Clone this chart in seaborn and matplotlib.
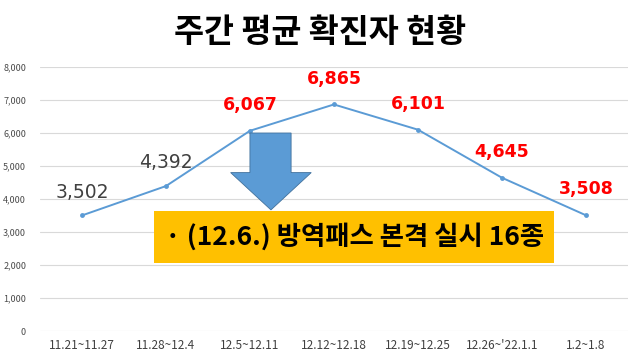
import matplotlib
matplotlib.use("Agg")
import matplotlib.pyplot as plt
import seaborn as sns
import pandas as pd
from matplotlib.patches import Polygon, Rectangle

weeks = ["11.21~11.27", "11.28~12.4", "12.5~12.11", "12.12~12.18",
         "12.19~12.25", "12.26~'22.1.1", "1.2~1.8"]
cases = [3502, 4392, 6067, 6865, 6101, 4645, 3508]
label_colors = ["#404040", "#404040", "#FF0000", "#FF0000", "#FF0000", "#FF0000", "#FF0000"]
yticks = [0, 1000, 2000, 3000, 4000, 5000, 6000, 7000, 8000]
title = "주간 평균 확진자 현황"
note = "· (12.6.) 방역패스 본격 실시 16종"

sns.set_theme(style="white")
plt.rcParams['font.family'] = ['Noto Sans CJK KR', 'DejaVu Sans']

df = pd.DataFrame({"week": weeks, "cases": cases})

fig = plt.figure(figsize=(6.4, 3.61), dpi=100)
ax = fig.add_axes([0.0625, 0.0831, 0.9185, 0.7313])

sns.lineplot(data=df, x="week", y="cases", ax=ax, color="#5B9BD5",
             linewidth=1.4, marker="o", markersize=3.5, markeredgewidth=0,
             sort=False)

ax.set_xlim(-0.5, len(weeks) - 0.5)
ax.set_ylim(0, 8000)
ax.set_yticks(yticks)
ax.set_yticklabels([f"{v:,}" for v in yticks], fontsize=6.5, color="#4A4A4A",
                   fontweight="medium")
ax.set_xticks(range(len(weeks)))
ax.set_xticklabels(weeks, fontsize=8.5, color="#404040")
ax.tick_params(axis="both", length=0)
ax.tick_params(axis="y", pad=10)
ax.tick_params(axis="x", pad=6)
ax.set_xlabel("")
ax.set_ylabel("")
ax.grid(axis="y", color="#D9D9D9", linewidth=0.8)
ax.set_axisbelow(True)
for s in ax.spines.values():
    s.set_visible(False)

for i, (v, c) in enumerate(zip(cases, label_colors)):
    if i < 2:
        ax.text(i, v + 700, f"{v:,}", ha="center", va="center", fontsize=13.5,
                color=c, family=["DejaVu Sans"])
    else:
        ax.text(i, v + 780, f"{v:,}", ha="center", va="center", fontsize=12.5,
                color=c, fontweight="bold", family=["DejaVu Sans"])

# Arrow
arrow = Polygon([(2.0, 6000), (2.49, 6000), (2.49, 4800), (2.73, 4800),
                 (2.25, 3670), (1.77, 4800), (2.0, 4800)],
                closed=True, facecolor="#5B9BD5", edgecolor="#41719C",
                linewidth=0.6, zorder=4)
ax.add_patch(arrow)

# Yellow box
box = Rectangle((0.857, 2060), 5.62 - 0.857, 3636 - 2060,
                facecolor="#FFC000", edgecolor="none", zorder=5)
ax.add_patch(box)
ax.text(3.24, 2850, note, ha="center", va="center", fontsize=19,
        fontweight="bold", color="black", zorder=6)

fig.text(0.5, 0.91, title, ha="center", va="center", fontsize=23.5,
         fontweight="bold", color="black")

fig.savefig("out.png", dpi=100)
